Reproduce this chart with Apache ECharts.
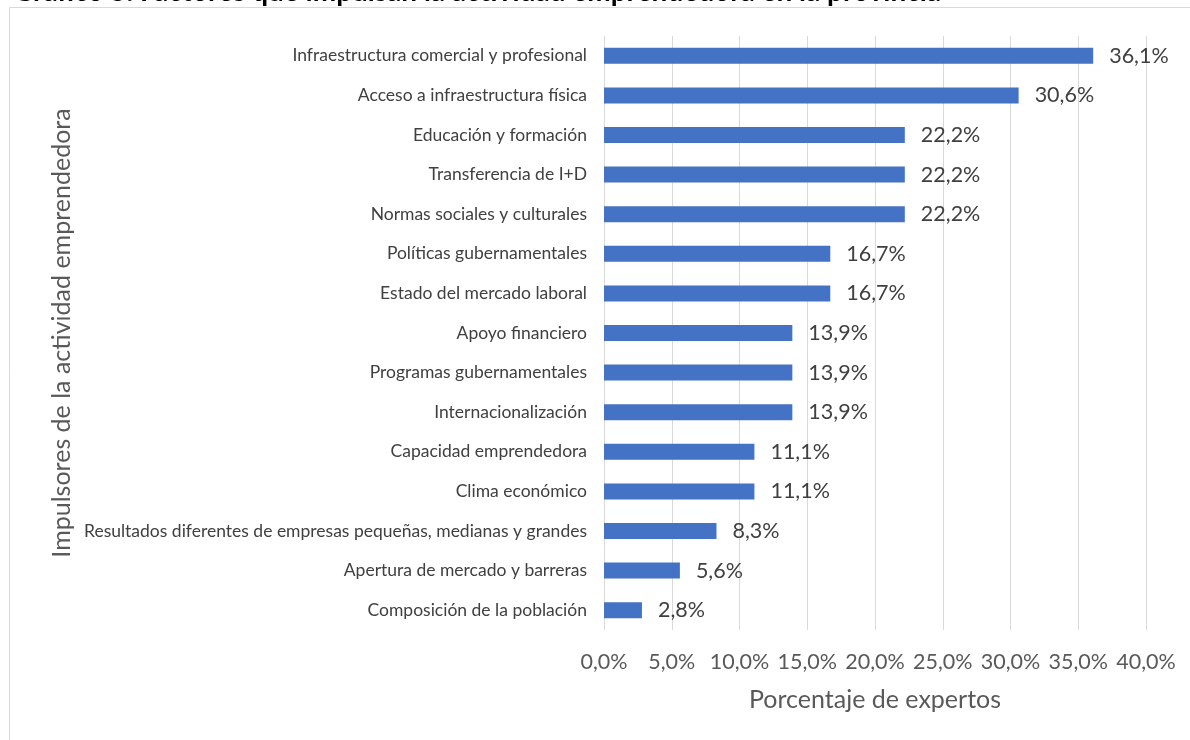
<!DOCTYPE html>
<html><head><meta charset="utf-8">
<script src="https://cdn.jsdelivr.net/npm/echarts@6/dist/echarts.min.js"></script>
<style>html,body{margin:0;padding:0;background:#fff}#c{width:1190px;height:740px}</style>
</head><body><div id="c"></div>
<script>
const titleText = 'Gráfico 5. Factores que impulsan la actividad emprendedora en la provincia';
const categories = [
  'Infraestructura comercial y profesional',
  'Acceso a infraestructura física',
  'Educación y formación',
  'Transferencia de I+D',
  'Normas sociales y culturales',
  'Políticas gubernamentales',
  'Estado del mercado laboral',
  'Apoyo financiero',
  'Programas gubernamentales',
  'Internacionalización',
  'Capacidad emprendedora',
  'Clima económico',
  'Resultados diferentes de empresas pequeñas, medianas y grandes',
  'Apertura de mercado y barreras',
  'Composición de la población'
];
const values = [36.1, 30.6, 22.2, 22.2, 22.2, 16.7, 16.7, 13.9, 13.9, 13.9, 11.1, 11.1, 8.3, 5.6, 2.8];
const xAxisName = 'Porcentaje de expertos';
const yAxisName = 'Impulsores de la actividad emprendedora';
const fmt = v => v.toFixed(1).replace('.', ',') + '%';
const FONT = 'Lato';
const chart = echarts.init(document.getElementById('c'));
chart.setOption({
  animation: false,
  textStyle: { fontFamily: FONT },
  title: {
    text: titleText, left: 8, top: -27,
    textStyle: { fontFamily: FONT, fontWeight: 'bold', fontSize: 28, color: '#000' }
  },
  graphic: [{
    type: 'rect', shape: { x: 9.5, y: 7.5, width: 1200, height: 760 },
    style: { fill: 'none', stroke: '#d9d9d9', lineWidth: 1 }, z: -1
  }],
  grid: { left: 604, right: 44, top: 36, bottom: 110 },
  xAxis: {
    type: 'value', min: 0, max: 40, interval: 5,
    axisLine: { show: false }, axisTick: { show: false },
    splitLine: { lineStyle: { color: '#d9d9d9', width: 1 } },
    axisLabel: { formatter: v => fmt(v), color: '#595959', fontSize: 21.5, margin: 21, fontFamily: FONT },
    name: xAxisName, nameLocation: 'middle', nameGap: 57,
    nameTextStyle: { color: '#595959', fontSize: 25, fontFamily: FONT }
  },
  yAxis: {
    type: 'category', data: categories, inverse: true,
    axisLine: { show: false }, axisTick: { show: false },
    axisLabel: { color: '#404040', fontSize: 17.5, margin: 17, fontFamily: FONT },
    name: yAxisName, nameLocation: 'middle', nameGap: 530, nameRotate: 90,
    nameTextStyle: { color: '#595959', fontSize: 25, fontFamily: FONT }
  },
  series: [{
    type: 'bar', data: values, barWidth: 16,
    itemStyle: { color: '#4472c4' },
    label: { show: true, position: 'right', distance: 16, formatter: p => fmt(p.value), color: '#404040', fontSize: 21.5, fontFamily: FONT }
  }]
});
</script></body></html>
